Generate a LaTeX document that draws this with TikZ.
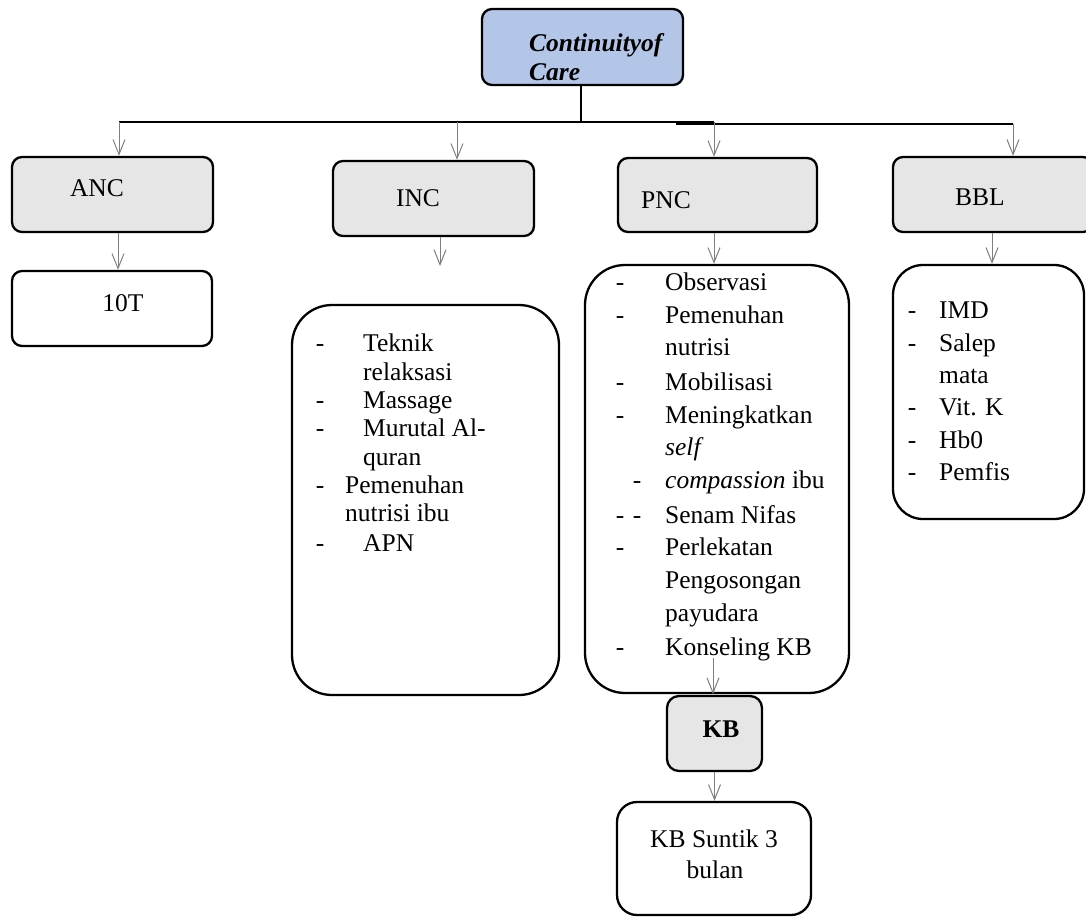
\documentclass[tikz,border=0pt]{standalone}
\usepackage{fontspec}
\setmainfont{Liberation Serif}
\usetikzlibrary{arrows.meta}
\definecolor{ccblue}{HTML}{B4C6E7}
\definecolor{boxgray}{HTML}{E6E6E6}
\definecolor{arrgray}{HTML}{7F7F7F}
\tikzset{
  box/.style={draw=black, line width=2.3pt, rounded corners=10pt, inner sep=0pt, fill=white},
  hdr/.style={box, fill=boxgray},
  arr/.style={draw=arrgray, line width=1pt, -{Straight Barb[length=15pt,width=12pt,line width=1pt]}},
  bus/.style={draw=black, line width=1.3pt},
  txt/.style={inner sep=0pt, anchor=west, text height=18pt, text depth=5pt},
  dsh/.style={inner sep=0pt, anchor=center, text height=18pt, text depth=5pt},
  lbl/.style={inner sep=0pt, anchor=center, text height=18pt, text depth=5pt},
}
\begin{document}
\begin{tikzpicture}[x=1pt,y=-1pt,font=\fontsize{25.5}{29}\selectfont]
\useasboundingbox (0,0) rectangle (1086,920);

% boxes
\node[box, fill=ccblue, minimum width=201pt, minimum height=76pt] (cc) at (582.5,47) {};
\node[hdr, minimum width=201pt, minimum height=75pt] (anc) at (112.5,194.5) {};
\node[box, minimum width=200pt, minimum height=75pt] (t10) at (112,308.5) {};
\node[hdr, minimum width=201pt, minimum height=75pt] (inc) at (433.5,198.5) {};
\node[box, rounded corners=40pt, minimum width=267pt, minimum height=390pt] (incl) at (425.5,500) {};
\node[hdr, minimum width=199pt, minimum height=74pt] (pnc) at (717.5,195) {};
\node[box, rounded corners=40pt, minimum width=264pt, minimum height=428pt] (pncl) at (717,479) {};
\node[hdr, rounded corners=12pt, minimum width=95pt, minimum height=75pt] (kb) at (714.5,733.5) {};
\node[box, rounded corners=20pt, minimum width=194pt, minimum height=113pt] (kbs) at (714,858.5) {};
\node[hdr, minimum width=200pt, minimum height=75pt] (bbl) at (993,194.5) {};
\node[box, rounded corners=30pt, minimum width=191pt, minimum height=254pt] (bbll) at (988.5,392) {};

% header texts
\node[anchor=west, inner sep=0pt, align=left, font=\fontsize{25.5}{29}\selectfont\bfseries\itshape] (cctxt) at (529,57.5) {Continuityof\\Care};
\node[lbl] (anct) at (97,190) {ANC};
\node[lbl] (t10t) at (123,305) {10T};
\node[lbl] (inct) at (418,200) {INC};
\node[lbl] (pnct) at (666,202) {PNC};
\node[lbl] (bblt) at (980,199) {BBL};
\node[lbl, font=\fontsize{25.5}{29}\selectfont\bfseries] (kbt) at (721,731) {KB};
\node[lbl] (kbs1) at (714,841) {KB Suntik 3};
\node[lbl] (kbs2) at (715,872) {bulan};

% INC list
\foreach \yy/\xx/\tt [count=\k] in {343/363/Teknik, 372/363/relaksasi, 400/363/Massage, 428/363/Murutal Al-, 457/363/quran, 485/345/Pemenuhan, 513/345/nutrisi ibu, 543/363/APN}
  \node[txt] (inci\k) at (\xx,\yy+2) {\tt};
\foreach \yy [count=\k] in {343,400,428,485,543}
  \node[dsh] (incd\k) at (320,\yy+2) {-};

% PNC list
\foreach \yy/\tt [count=\k] in {282/Observasi, 315/Pemenuhan, 347/nutrisi, 382/Mobilisasi, 415/Meningkatkan, 447/\textit{self}, 480/\textit{compassion} ibu, 515/Senam Nifas, 547/Perlekatan, 580/Pengosongan, 613/payudara, 647/Konseling KB}
  \node[txt] (pnci\k) at (665,\yy+2) {\tt};
\foreach \xx/\yy [count=\k] in {620/282, 620/315, 620/382, 620/415, 637/480, 620/515, 637/515, 620/547, 620/647}
  \node[dsh] (pncd\k) at (\xx,\yy+2) {-};

% BBL list
\foreach \yy/\tt [count=\k] in {310/IMD, 343/Salep, 375/mata, 407/Vit. K, 440/Hb0, 472/Pemfis}
  \node[txt] (bbli\k) at (939,\yy+2) {\tt};
\foreach \yy [count=\k] in {310,343,407,440,472}
  \node[dsh] (bbld\k) at (912,\yy+2) {-};

% bus
\coordinate (busL) at (119,122);
\coordinate (busR) at (714,122);
\coordinate (bINC) at (457,122);
\coordinate (bus2L) at (676,124);
\coordinate (bus2R) at (1013,124);
\draw[bus] (cc.south -| 581,0) -- (581,122);
\draw[bus] (busL) -- (busR);
\draw[bus] (bus2L) -- (bus2R);
\draw[arr] (busL) -- (busL |- anc.north);
\draw[arr] (bINC) -- (bINC |- inc.north);
\draw[arr] (busR) -- (busR |- pnc.north);
\draw[arr] (bus2R) -- (bus2R |- bbl.north);

% vertical arrows
\draw[arr] ([xshift=5.5pt]anc.south) -- ([xshift=5.5pt]anc.south |- t10.north);
\coordinate (incEnd) at (440,266);
\draw[arr] (incEnd |- inc.south) -- (incEnd);
\draw[arr] ([xshift=-3.5pt]pnc.south) -- ([xshift=-3.5pt]pnc.south |- pncl.north);
\coordinate (kbStart) at (713,658);
\draw[arr] (kbStart) -- (kbStart |- pncl.south);
\draw[arr] (kb.south) -- (kb.south |- kbs.north);
\draw[arr] ([xshift=-1pt]bbl.south) -- ([xshift=-1pt]bbl.south |- bbll.north);
\end{tikzpicture}
\end{document}
